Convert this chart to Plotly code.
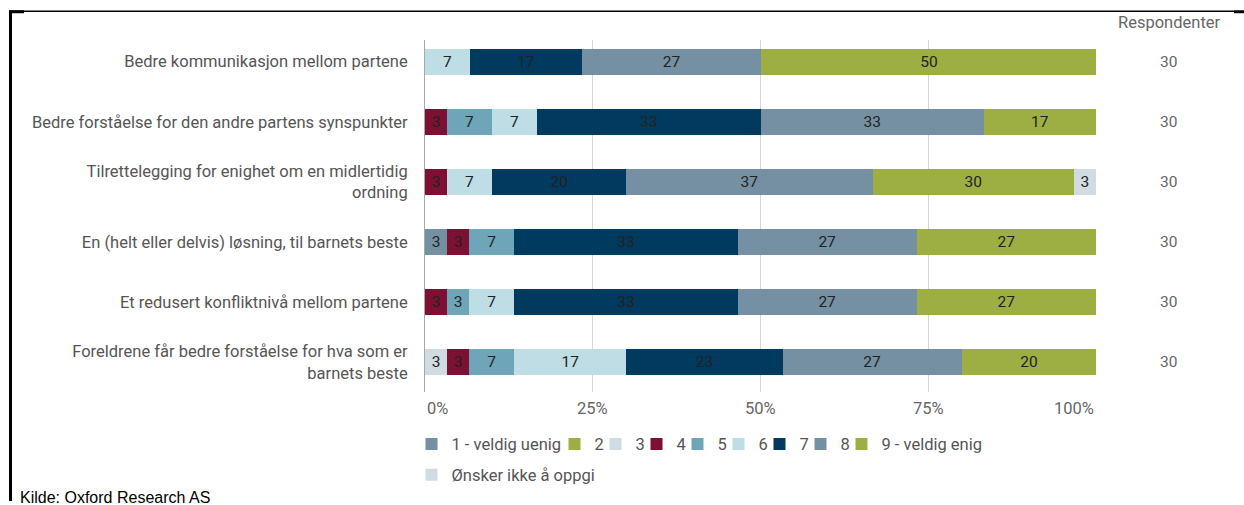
import plotly.graph_objects as go

# categories (top to bottom)
categories = [
    "Bedre kommunikasjon mellom partene",
    "Bedre forståelse for den andre partens synspunkter",
    "Tilrettelegging for enighet om en midlertidig<br>ordning",
    "En (helt eller delvis) løsning, til barnets beste",
    "Et redusert konfliktnivå mellom partene",
    "Foreldrene får bedre forståelse for hva som er<br>barnets beste",
]

series_names = ["1 - veldig uenig", "2", "3", "4", "5", "6", "7", "8",
                "9 - veldig enig", "Ønsker ikke å oppgi"]

# share of respondents in percent, one list per answer option
s1 = [0, 0, 0, 3.3, 0, 0]
s2 = [0, 0, 0, 0, 0, 0]
s3 = [0, 0, 0, 0, 0, 3.3]
s4 = [0, 3.3, 3.3, 3.3, 3.3, 3.3]
s5 = [0, 6.7, 0, 6.7, 3.3, 6.7]
s6 = [6.7, 6.7, 6.7, 0, 6.7, 16.7]
s7 = [16.7, 33.3, 20.0, 33.3, 33.3, 23.3]
s8 = [26.7, 33.3, 36.7, 26.7, 26.7, 26.7]
s9 = [50.0, 16.7, 30.0, 26.7, 26.7, 20.0]
s10 = [0, 0, 3.3, 0, 0, 0]
series_values = [s1, s2, s3, s4, s5, s6, s7, s8, s9, s10]

respondents = [30, 30, 30, 30, 30, 30]

x_ticks = [0, 25, 50, 75, 100]
x_ticktext = ["0%", "25%", "50%", "75%", "100%"]

# styling
colors = ["#7590a2", "#9daf43", "#d1dbe2", "#7e1034", "#6fa5b8",
          "#bedde5", "#003a5f", "#7590a2", "#9daf43", "#d1dbe2"]
legend_widths = [106, 4, 4, 4, 4, 4, 4, 4, None, None]
tick_anchor = ["left", "center", "center", "center", "right"]

W, H = 1244, 505
L, R, T, B = 425, 1096, 40, 395  # plot area in pixels


def px_x(px):
    return (px - L) / (R - L)


def px_y(py):
    return (B - py) / (B - T)


FONT = "Roboto, Arial, sans-serif"

fig = go.Figure()

for i, (name, vals) in enumerate(zip(series_names, series_values)):
    bar = go.Bar(
        y=categories,
        x=[v if v > 0 else None for v in vals],
        name=name,
        orientation="h",
        marker=dict(color=colors[i], line=dict(width=0)),
        text=[f"{round(v)}" if v > 0 else "" for v in vals],
        textposition="inside",
        insidetextanchor="middle",
        textangle=0,
        constraintext="none",
        textfont=dict(family=FONT, size=15.5, color="#222222"),
        hoverinfo="name+x",
        legend="legend2" if i == 9 else "legend",
    )
    if legend_widths[i]:
        bar.legendwidth = legend_widths[i]
    fig.add_trace(bar)

annotations = [
    dict(x=px_x(1169), y=px_y(22), xref="paper", yref="paper",
         xanchor="center", yanchor="middle",
         text="Respondenter", showarrow=False,
         font=dict(family=FONT, size=16.5, color="#666666")),
    dict(x=px_x(19), y=px_y(492), xref="paper", yref="paper",
         xanchor="left", yanchor="top", text="Kilde: Oxford Research AS",
         showarrow=False, borderpad=0,
         font=dict(family="Liberation Sans, Arial", size=16, color="#000000")),
]
for cat, n in zip(categories, respondents):
    annotations.append(dict(x=px_x(1168), y=cat, xref="paper", yref="y",
                            xanchor="center", yanchor="middle",
                            text=str(n), showarrow=False,
                            font=dict(family=FONT, size=15.5, color="#666666")))
# x tick labels: first one left aligned, last one right aligned
for v, t, a in zip(x_ticks, x_ticktext, tick_anchor):
    annotations.append(dict(x=v, y=px_y(412), xref="x", yref="paper",
                            text=t, xanchor=a, yanchor="middle",
                            showarrow=False,
                            font=dict(family=FONT, size=16.5, color="#666666")))

shapes = [
    # frame lines around the figure
    dict(type="line", xref="paper", yref="paper", x0=px_x(9), x1=px_x(1234),
         y0=px_y(11), y1=px_y(11), line=dict(color="black", width=1.5)),
    dict(type="line", xref="paper", yref="paper", x0=px_x(1234), x1=px_x(1244),
         y0=px_y(11.5), y1=px_y(11.5), line=dict(color="black", width=3)),
    dict(type="line", xref="paper", yref="paper", x0=px_x(9), x1=px_x(24),
         y0=px_y(11.5), y1=px_y(11.5), line=dict(color="black", width=3)),
    dict(type="line", xref="paper", yref="paper", x0=px_x(10.5), x1=px_x(10.5),
         y0=px_y(11), y1=px_y(505), line=dict(color="black", width=3)),
]

fig.update_layout(
    width=W, height=H,
    margin=dict(l=L, r=W - R, t=T, b=H - B),
    barmode="stack",
    bargap=0.571,
    plot_bgcolor="white",
    paper_bgcolor="white",
    font=dict(family=FONT, size=16.5, color="#555555"),
    xaxis=dict(range=[0, 100], tickvals=x_ticks, showticklabels=False,
               showgrid=True, gridcolor="#d6d6d6", gridwidth=1,
               zeroline=False, showline=False, fixedrange=True),
    yaxis=dict(range=[5.495, -0.36], showgrid=False, ticks="",
               showline=True, linecolor="#a8a8a8", linewidth=1,
               ticklabelstandoff=13, fixedrange=True,
               tickfont=dict(family=FONT, size=16.5, color="#555555")),
    legend=dict(orientation="h", x=px_x(419.5), y=px_y(430), xanchor="left",
                yanchor="top", traceorder="normal", indentation=-8,
                font=dict(family=FONT, size=16.5, color="#555555"),
                itemwidth=30, tracegroupgap=0),
    legend2=dict(orientation="h", x=px_x(419.5), y=px_y(461), xanchor="left",
                 yanchor="top", indentation=-8,
                 font=dict(family=FONT, size=16.5, color="#555555"),
                 itemwidth=30),
    annotations=annotations,
    shapes=shapes,
    showlegend=True,
)

fig.write_html("out.html", config={"displayModeBar": False},
               post_script="document.body.style.margin='0px';")
